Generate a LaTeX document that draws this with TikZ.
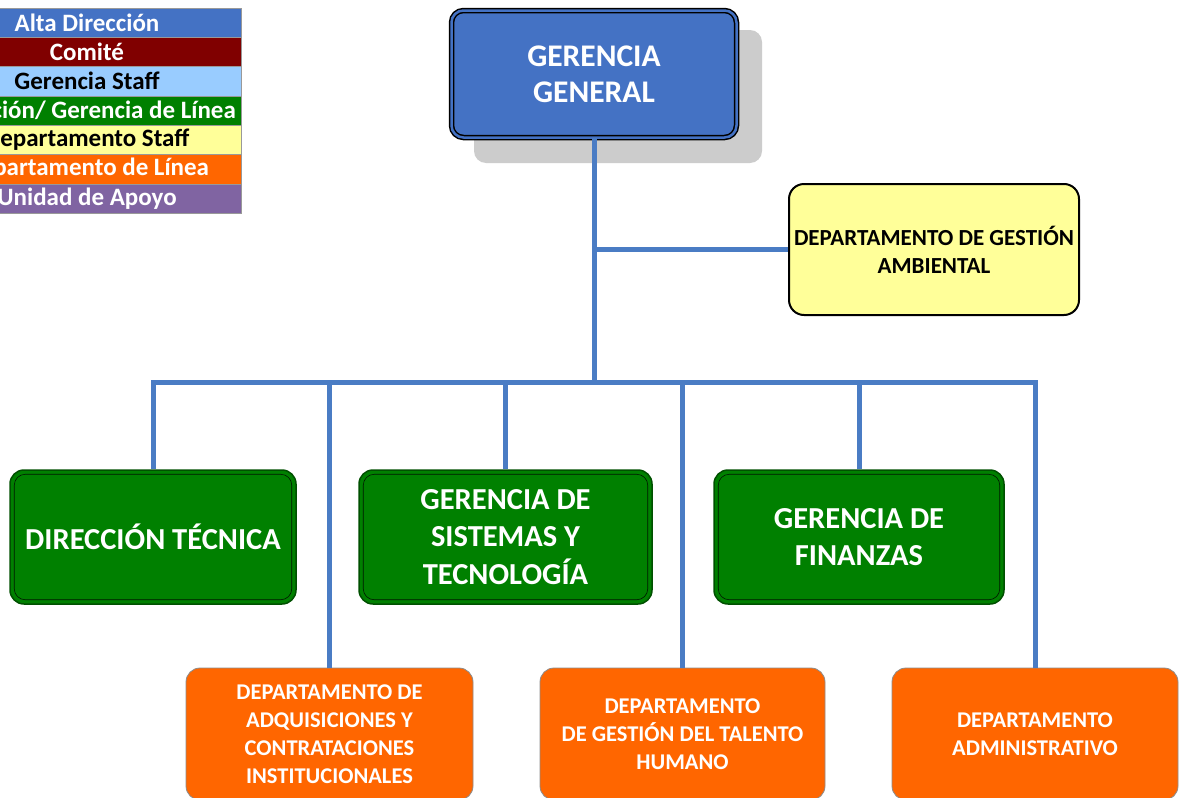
\documentclass[tikz,border=0pt]{standalone}
\usepackage{fontspec}
\setmainfont{Carlito}
\definecolor{ggblue}{RGB}{68,114,196}
\definecolor{connblue}{RGB}{74,124,196}
\definecolor{shadowgray}{RGB}{204,204,204}
\definecolor{comred}{RGB}{128,0,0}
\definecolor{staffblue}{RGB}{153,204,255}
\definecolor{linegreen}{RGB}{0,128,0}
\definecolor{darkgreen}{RGB}{0,80,0}
\definecolor{staffyellow}{RGB}{255,255,153}
\definecolor{lineorange}{RGB}{255,102,0}
\definecolor{apoyopurple}{RGB}{128,100,162}
\tikzset{
  conn/.style={draw=connblue, line width=5pt},
  ggbox/.style={rectangle, rounded corners=12pt, fill=ggblue, draw=black, double=ggblue, double distance=2.5pt, line width=1.5pt,
     minimum width=285pt, minimum height=127pt, align=center, text=white,
     font=\fontsize{31.5}{36}\selectfont\bfseries},
  greenbox/.style={rectangle, rounded corners=14pt, fill=linegreen, draw=darkgreen, line width=1.5pt,
     minimum height=134pt, align=center, text=white,
     font=\fontsize{30.5}{37.5}\selectfont\bfseries},
  orangebox/.style={rectangle, rounded corners=14pt, fill=lineorange, draw=black!45, line width=0.8pt,
     minimum height=132pt, align=center, text=white,
     font=\fontsize{22.5}{27.8}\selectfont\bfseries},
  yellowbox/.style={rectangle, rounded corners=15pt, fill=staffyellow, draw=black, line width=2pt,
     minimum width=290pt, minimum height=131pt, align=center, text=black, inner sep=0pt,
     font=\fontsize{23}{28}\selectfont\bfseries},
  legcell/.style={rectangle, draw=black!40, line width=0.6pt, minimum width=320pt, minimum height=29.3pt,
     inner sep=0pt},
  legtext/.style={inner sep=0pt, font=\fontsize{25}{26}\selectfont\bfseries}
}
\begin{document}
\begin{tikzpicture}[x=1pt,y=-1pt]
\useasboundingbox (0,0) rectangle (1179,798);
\clip (0,0) rectangle (1179,798);
\fill[white] (0,0) rectangle (1179,798);

% legend
\foreach \i/\col/\tc/\txt in {0/ggblue/white/{Alta Dirección},1/comred/white/{Comité},2/staffblue/black/{Gerencia Staff},3/linegreen/white/{Dirección/ Gerencia de Línea},4/staffyellow/black/{Departamento Staff},5/lineorange/white/{Departamento de Línea},6/apoyopurple/white/{Unidad de Apoyo}}{
  \node[legcell, fill=\col] (leg\i) at (81,{22.65+29.3*\i}) {};
  \node[legtext, text=\tc] (legt\i) at (87,{22.65+29.3*\i}) {\txt};
}

% shadow + top box
\fill[shadowgray, rounded corners=12pt] (474,30) rectangle (762,163);
\node[ggbox] (gg) at (594,74) {GERENCIA\\GENERAL};

% staff department
\node[yellowbox] (ga) at (934,249.5) {DEPARTAMENTO DE GESTIÓN\\AMBIENTAL};

% line managements
\node[greenbox, minimum width=286pt] (dt) at (153,537) {DIRECCIÓN TÉCNICA};
\node[greenbox, minimum width=293pt] (gst) at (505.5,537) {GERENCIA DE\\SISTEMAS Y\\TECNOLOGÍA};
\node[greenbox, minimum width=290pt] (gf) at (859,537) {GERENCIA DE\\FINANZAS};

% inner thin lines of green boxes
\foreach \n in {dt,gst,gf}{
  \draw[black!70!darkgreen, line width=0.6pt, rounded corners=11pt]
    ([shift={(5,5)}]\n.north west) rectangle ([shift={(-5,-5)}]\n.south east);
}

% line departments
\node[orangebox, minimum width=287pt] (o1) at (329.5,734) {DEPARTAMENTO DE\\ADQUISICIONES Y\\CONTRATACIONES\\INSTITUCIONALES};
\node[orangebox, minimum width=285pt] (o2) at (682.5,734) {DEPARTAMENTO\\DE GESTIÓN DEL TALENTO\\HUMANO};
\node[orangebox, minimum width=286pt] (o3) at (1035,734) {DEPARTAMENTO\\ADMINISTRATIVO};

% connectors
\coordinate (j) at (594,382);
\draw[conn] (gg.south) -- (j);
\draw[conn] (gg.south |- ga.west) -- (ga.west);
\draw[conn] (dt.north) |- (j) -| (o3.north);
\draw[conn] (o1.north) -- (o1.north |- j);
\draw[conn] (gst.north) -- (gst.north |- j);
\draw[conn] (o2.north) -- (o2.north |- j);
\draw[conn] (gf.north) -- (gf.north |- j);
\end{tikzpicture}
\end{document}
